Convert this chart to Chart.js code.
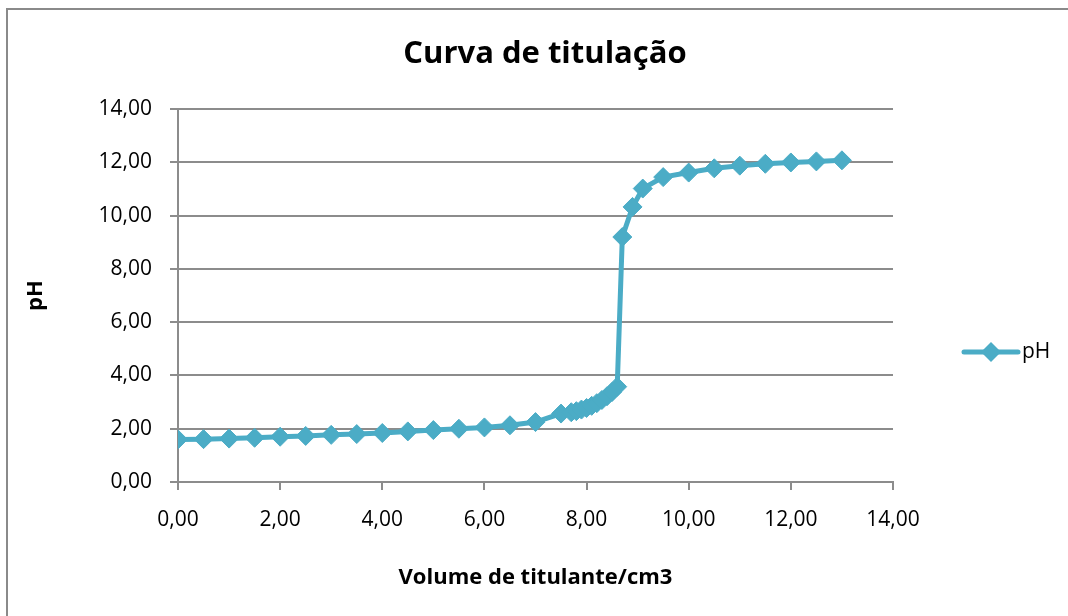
<!DOCTYPE html>
<html>
<head>
<meta charset="utf-8">
<script src="https://cdn.jsdelivr.net/npm/chart.js@4/dist/chart.umd.min.js"></script>
<style>
html,body{margin:0;padding:0;background:#fff;overflow:hidden;}
#wrap{position:absolute;left:0;top:0;width:1068px;height:616px;overflow:hidden;}
#frame{position:absolute;left:6px;top:8px;width:1200px;height:800px;border-left:2px solid #8a8a8a;border-top:2px solid #8a8a8a;}
canvas{position:absolute;left:0;top:0;}
</style>
</head>
<body>
<div id="wrap">
<div id="frame"></div>
<canvas id="c" width="1090" height="616"></canvas>
</div>
<script>
const volumes = [0, 0.5, 1, 1.5, 2, 2.5, 3, 3.5, 4, 4.5, 5, 5.5, 6, 6.5, 7, 7.5, 7.7, 7.8, 7.9, 8.0, 8.1, 8.2, 8.3, 8.4, 8.5, 8.6, 8.7, 8.9, 9.1, 9.5, 10, 10.5, 11, 11.5, 12, 12.5, 13];
const pH = [1.60, 1.61, 1.63, 1.66, 1.70, 1.73, 1.77, 1.80, 1.84, 1.90, 1.95, 2.00, 2.05, 2.13, 2.25, 2.57, 2.62, 2.66, 2.72, 2.78, 2.86, 2.96, 3.08, 3.22, 3.38, 3.58, 9.20, 10.33, 11.02, 11.45, 11.62, 11.78, 11.88, 11.95, 12.00, 12.04, 12.08];
const xTicks = [0, 2, 4, 6, 8, 10, 12, 14];
const yTicks = [0, 2, 4, 6, 8, 10, 12, 14];
const seriesName = 'pH';
const titleText = 'Curva de titulação';
const xTitle = 'Volume de titulante/cm3';
const yTitle = 'pH';

const COLOR = '#4BACC6';
const GRID = '#8c8c8c';
const FONT = '"Open Sans", sans-serif';

const fmt = v => Number(v).toFixed(2).replace('.', ',');

// legend drawn in the right-hand margin (line + diamond + series name)
const sideLegend = {
  id: 'sideLegend',
  afterDraw(chart) {
    const ds = chart.data.datasets[0];
    const ctx = chart.ctx;
    const x0 = chart.chartArea.right + 71, x1 = x0 + 54, cy = 352, cx = (x0 + x1) / 2, r = 10;
    ctx.save();
    ctx.strokeStyle = ds.borderColor; ctx.lineWidth = 5; ctx.lineCap = 'round';
    ctx.beginPath(); ctx.moveTo(x0, cy); ctx.lineTo(x1, cy); ctx.stroke();
    ctx.fillStyle = ds.borderColor;
    ctx.beginPath(); ctx.moveTo(cx, cy - r); ctx.lineTo(cx + r, cy); ctx.lineTo(cx, cy + r); ctx.lineTo(cx - r, cy); ctx.closePath(); ctx.fill();
    ctx.fillStyle = '#000';
    ctx.font = '21px ' + FONT;
    ctx.textAlign = 'left'; ctx.textBaseline = 'middle';
    ctx.fillText(ds.label, x1 + 4, cy);
    ctx.restore();
  }
};

new Chart(document.getElementById('c'), {
  type: 'line',
  data: {
    datasets: [{
      label: seriesName,
      data: volumes.map((v, i) => ({x: v, y: pH[i]})),
      borderColor: COLOR,
      backgroundColor: COLOR,
      borderWidth: 5,
      pointStyle: 'rectRot',
      pointRadius: 9.5,
      pointHoverRadius: 9.5,
      pointBackgroundColor: COLOR,
      pointBorderColor: COLOR,
      pointBorderWidth: 1,
      tension: 0,
      fill: false
    }]
  },
  plugins: [sideLegend],
  options: {
    responsive: false,
    animation: false,
    devicePixelRatio: 1,
    layout: {padding: 0},
    plugins: {
      title: {
        display: true, text: titleText, color: '#000',
        font: {family: FONT, size: 31, weight: 'bold'},
        padding: {top: 36, bottom: 36}
      },
      legend: {display: false},
      tooltip: {enabled: false}
    },
    scales: {
      x: {
        type: 'linear', min: 0, max: 14,
        afterBuildTicks: s => { s.ticks = xTicks.map(v => ({value: v})); },
        afterFit: s => { s.height = 134; },
        ticks: {color: '#000', font: {family: FONT, size: 21}, callback: v => fmt(v), padding: 17},
        grid: {display: true, drawOnChartArea: false, drawTicks: true, tickLength: 8, color: GRID, lineWidth: 2},
        border: {display: true, color: GRID, width: 2},
        title: {display: true, text: xTitle, color: '#000', font: {family: FONT, size: 22, weight: 'bold'}, padding: {top: 10, bottom: 25}}
      },
      y: {
        type: 'linear', min: 0, max: 14,
        afterBuildTicks: s => { s.ticks = yTicks.map(v => ({value: v})); },
        afterFit: s => { s.width = 178; },
        ticks: {color: '#000', font: {family: FONT, size: 21}, callback: v => fmt(v), padding: 18},
        grid: {display: true, drawTicks: true, tickLength: 8, color: GRID, lineWidth: 2},
        border: {display: true, color: GRID, width: 2},
        title: {display: true, text: yTitle, color: '#000', font: {family: FONT, size: 22, weight: 'bold'}, padding: {top: 23, bottom: 0}}
      },
      legendSpace: {
        type: 'linear', position: 'right', display: true,
        grid: {display: false}, ticks: {display: false}, border: {display: false},
        afterFit: s => { s.width = 197; }
      }
    }
  }
});
</script>
</body>
</html>
